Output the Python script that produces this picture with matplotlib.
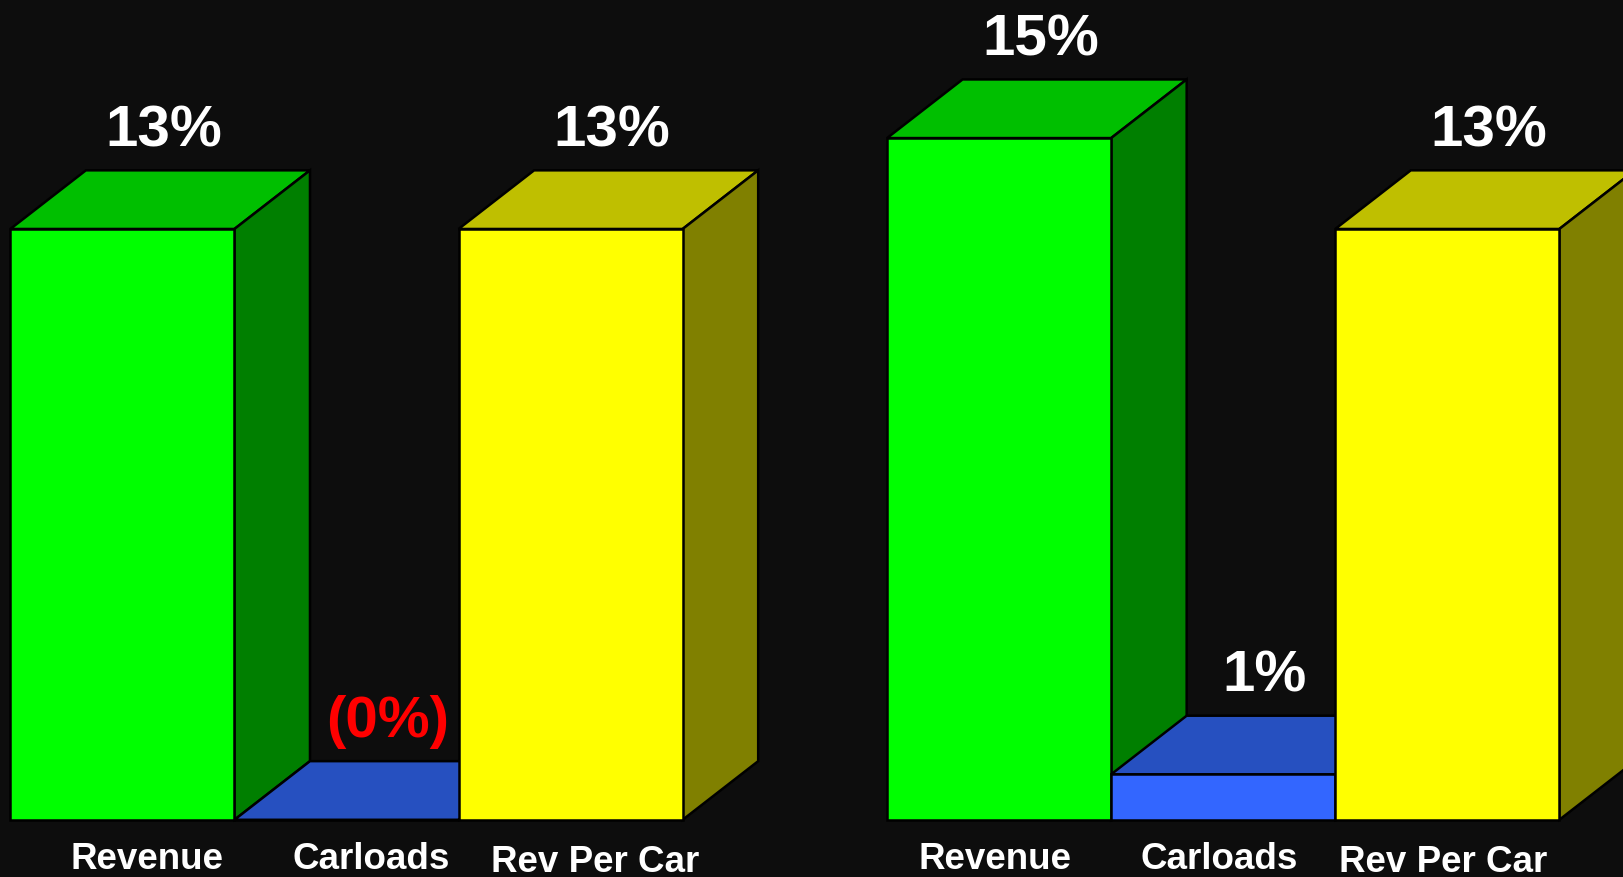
import matplotlib.pyplot as plt
from matplotlib.patches import Polygon

# data
categories = ['Revenue', 'Carloads', 'Rev Per Car']
left_values = [13, 0, 13]
right_values = [15, 1, 13]
left_texts = ['13%', '(0%)', '13%']
right_texts = ['15%', '1%', '13%']
left_text_colors = ['white', '#ff0000', 'white']
right_text_colors = ['white', 'white', 'white']

# colours per category: front, top, side
front_cols = ['#00ff00', '#3366ff', '#ffff00']
top_cols = ['#00bf00', '#2650c0', '#bfbf00']
side_cols = ['#007f00', '#1a3a99', '#808000']

bg = '#0d0d0d'
dx, dy = 0.337, 1.29          # depth offset of the 3d boxes (x units, % units)
group_start = [0.0, 3.912]
label_shift = [0.11, -0.02]

fig = plt.figure(figsize=(16.23, 8.78), dpi=100, facecolor=bg)
ax = fig.add_axes([0, 0, 1, 1])
ax.set_facecolor(bg)
ax.set_xlim(-0.0462, 7.196)
ax.set_ylim(-1.259, 18.06)
ax.axis('off')

z = 1
groups = [(left_values, left_texts, left_text_colors),
          (right_values, right_texts, right_text_colors)]
for g, (vals, texts, tcols) in enumerate(groups):
    for i, v in enumerate(vals):
        x0 = group_start[g] + i
        x1 = x0 + 1
        top = Polygon([(x0, v), (x1, v), (x1 + dx, v + dy), (x0 + dx, v + dy)],
                      closed=True, facecolor=top_cols[i], edgecolor='black',
                      linewidth=1.8, zorder=z)
        side = Polygon([(x1, 0), (x1 + dx, dy), (x1 + dx, v + dy), (x1, v)],
                       closed=True, facecolor=side_cols[i], edgecolor='black',
                       linewidth=1.8, zorder=z)
        ax.add_patch(top)
        ax.add_patch(side)
        ax.bar(x0, v, width=1, align='edge', color=front_cols[i],
               edgecolor='black', linewidth=1.8, zorder=z + 0.5)
        z += 1

        ax.text(x0 + 0.5 + dx * 0.55, v + dy + 0.55, texts[i], color=tcols[i],
                fontsize=42, fontweight='bold', family='Liberation Sans',
                ha='center', va='baseline', zorder=50)
        ly = -1.06 if i < 2 else -1.13
        ax.text(x0 + 0.5 + label_shift[g], ly, categories[i], color='white',
                fontsize=26.5, fontweight='bold', family='Liberation Sans',
                ha='center', va='baseline', zorder=50)

fig.savefig('out.png', dpi=100, facecolor=bg)
